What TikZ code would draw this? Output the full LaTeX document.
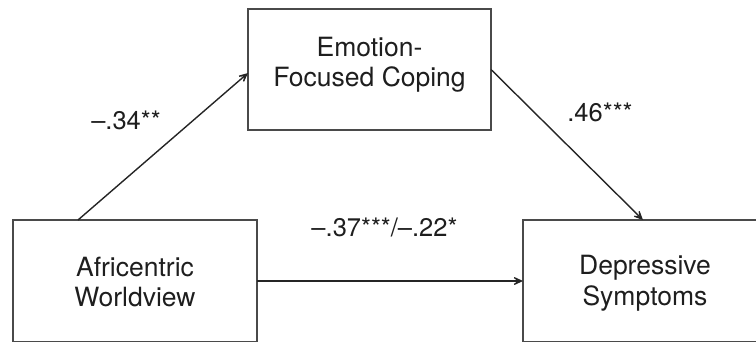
\documentclass[tikz,border=0pt]{standalone}
\usepackage{fontspec}
\setmainfont{TeX Gyre Heros}
\usetikzlibrary{arrows.meta}
\definecolor{boxgray}{HTML}{4A4A4A}
\definecolor{linegray}{HTML}{252525}
\definecolor{inkgray}{HTML}{1E1E1E}
\begin{document}
\begin{tikzpicture}[x=1pt,y=-1pt,
  box/.style={draw=boxgray, line width=1.4pt, inner sep=0pt, outer sep=0pt},
  boxtext/.style={text=inkgray, align=center, inner sep=0pt,
    font=\fontsize{26.5}{30.7}\selectfont},
  coef/.style={text=inkgray, inner sep=0pt, anchor=base,
    font=\fontsize{25.5}{30}\selectfont},
  conn/.style={draw=linegray, line width=1.4pt,
    -{Stealth[length=15pt, width=14pt, inset=10pt]}}]
\useasboundingbox (0,0) rectangle (756,341);
\clip (0,0) rectangle (756,341);

% variable boxes
\node[box, minimum width=243pt, minimum height=121pt] (efc) at (369.5,69.5) {};
\node[box, minimum width=244pt, minimum height=122pt] (acw) at (135,281) {};
\node[box, minimum width=244pt, minimum height=122pt] (dep) at (645,281) {};

% box labels (anchored on the baseline of the last line)
\node[boxtext, anchor=base] (efct) at (369.5,86.7) {Emotion-\\Focused Coping};
\node[boxtext, anchor=base] (acwt) at (135,306.7) {Africentric\\Worldview};
\node[boxtext, anchor=base] (dept) at (645,305.5) {Depressive\\Symptoms};

% paths
\draw[conn] ([xshift=65pt]acw.north west) -- ([yshift=-3.5pt]efc.west);
\draw[conn] (efc.east) -- ([xshift=-2pt]dep.north);
\draw[conn] (acw.east) -- (dep.west);

% path coefficients
\node[coef] (a) at (126,129) {–.34**};
\node[coef] (b) at (600,121.7) {.46***};
\node[coef] (c) at (384.5,236.5) {–.37***/–.22*};
\end{tikzpicture}
\end{document}
